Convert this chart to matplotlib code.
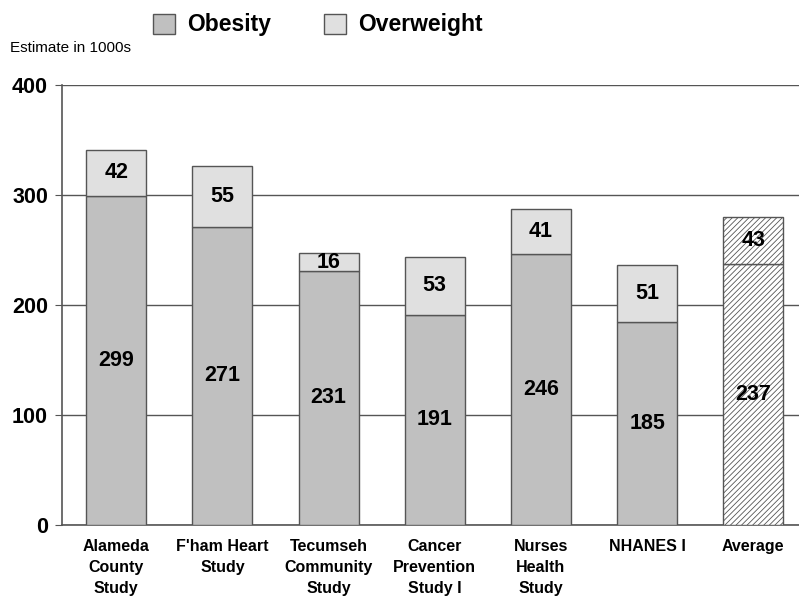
import numpy as np
import matplotlib.pyplot as plt
from matplotlib.patches import Patch

categories = ['Alameda\nCounty\nStudy', "F'ham Heart\nStudy", 'Tecumseh\nCommunity\nStudy',
              'Cancer\nPrevention\nStudy I', 'Nurses\nHealth\nStudy', 'NHANES I', 'Average']
obesity = [299, 271, 231, 191, 246, 185, 237]
overweight = [42, 55, 16, 53, 41, 51, 43]

plt.rcParams['font.family'] = ['Liberation Sans', 'DejaVu Sans']
plt.rcParams['hatch.color'] = '#b0b0b0'
plt.rcParams['hatch.linewidth'] = 0.6

fig = plt.figure(figsize=(7.99, 6.02), dpi=100)
ax = fig.add_axes([62 / 799, 1 - 525 / 602, 1 - 62 / 799, 440 / 602])

x = np.arange(len(categories))
edge = '#555555'
for i in x:
    avg = categories[i] == 'Average'
    c1 = 'white' if avg else '#c0c0c0'
    c2 = 'white' if avg else '#e0e0e0'
    h = '//////' if avg else None
    ax.bar(i, obesity[i], width=0.565, color=c1, edgecolor=edge, linewidth=1, hatch=h, zorder=3)
    ax.bar(i, overweight[i], bottom=obesity[i], width=0.565, color=c2, edgecolor=edge,
           linewidth=1, hatch=h, zorder=3)
    ax.text(i, obesity[i] / 2, str(obesity[i]), ha='center', va='center',
            fontsize=15.5, fontweight='bold', zorder=4)
    ax.text(i, obesity[i] + overweight[i] / 2, str(overweight[i]), ha='center', va='center',
            fontsize=15.5, fontweight='bold', zorder=4)

ax.set_xlim(-0.51, 6.43)
ax.set_ylim(0, 400)
ax.set_yticks([0, 100, 200, 300, 400])
ax.set_yticklabels(['0', '100', '200', '300', '400'], fontsize=15.5, fontweight='bold')
ax.yaxis.grid(True, color='#555555', linewidth=1)
ax.set_axisbelow(True)
ax.tick_params(axis='y', length=5, color='#555555', pad=5)
ax.tick_params(axis='x', length=0, pad=10)
ax.set_xticks(x)
ax.set_xticklabels(categories, fontsize=11.5, fontweight='bold', linespacing=1.5, va='top')
for s in ['top', 'right']:
    ax.spines[s].set_visible(False)
for s in ['left', 'bottom']:
    ax.spines[s].set_color('#555555')
    ax.spines[s].set_linewidth(1.2)

fig.text(10 / 799, 1 - 48 / 602, 'Estimate in 1000s', fontsize=11, va='center')

handles = [Patch(facecolor='#c0c0c0', edgecolor=edge), Patch(facecolor='#e0e0e0', edgecolor=edge)]
fig.legend(handles, ['Obesity', 'Overweight'], loc='center', bbox_to_anchor=(318 / 799, 1 - 25 / 602),
           ncol=2, frameon=False, prop={'size': 16.5, 'weight': 'bold'},
           handlelength=0.95, handleheight=0.95, columnspacing=2.3, handletextpad=0.55)

fig.savefig('out.png', dpi=100)
